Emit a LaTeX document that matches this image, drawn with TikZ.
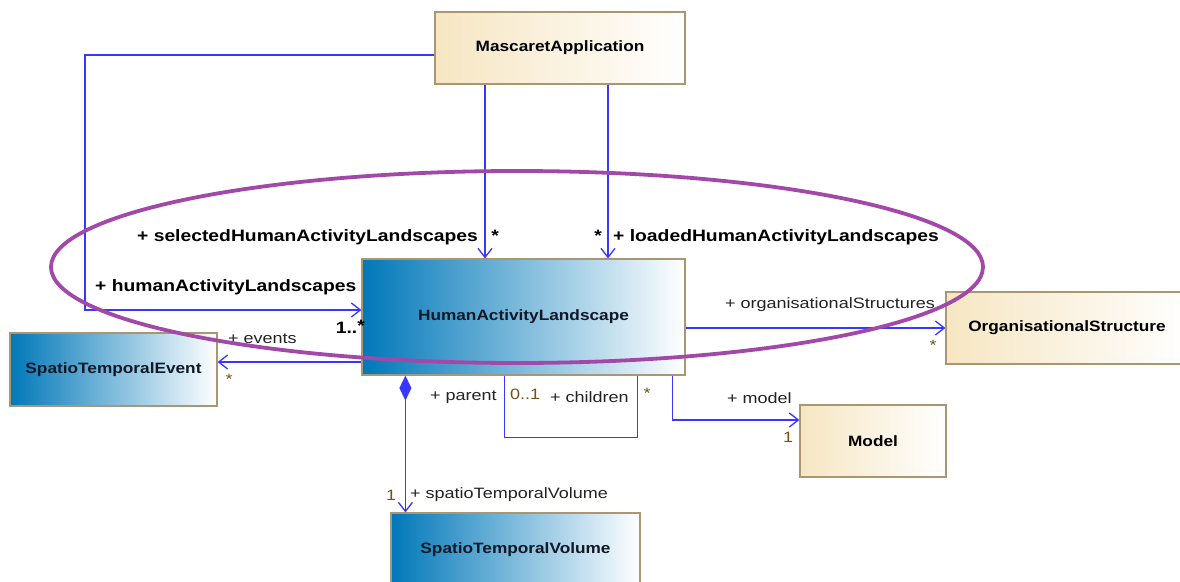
\documentclass[tikz,border=0pt]{standalone}
\usepackage{fontspec}
\setmainfont{Liberation Sans}
\newfontfamily\classfont[FakeStretch=1.15]{Liberation Sans}
\newfontfamily\rolefont[FakeStretch=1.17]{Liberation Sans}
\newfontfamily\labelfont[FakeStretch=1.2]{Liberation Sans}
\usetikzlibrary{arrows.meta}
\definecolor{lineblue}{RGB}{55,55,255}
\definecolor{boxborder}{RGB}{170,150,115}
\definecolor{tanleft}{RGB}{246,230,194}
\definecolor{blueleft}{RGB}{0,120,185}
\definecolor{textdark}{RGB}{15,25,40}
\definecolor{ellipsepurple}{RGB}{162,72,168}
\definecolor{multbrown}{RGB}{120,80,20}
\definecolor{labelgray}{RGB}{35,35,35}
\begin{document}
\begin{tikzpicture}[x=1pt,y=-1pt,
  cls/.style={draw=boxborder, line width=1.2pt, font=\classfont\fontsize{15}{17}\selectfont\bfseries, inner sep=0pt},
  tanbox/.style={cls, left color=tanleft, right color=white, text=black},
  bluebox/.style={cls, left color=blueleft, right color=white, text=textdark},
  assoc/.style={draw=lineblue, line width=1.3pt, -{Straight Barb[length=9pt,width=14pt]}},
  plainline/.style={draw=lineblue, line width=1.3pt},
  comp/.style={draw=lineblue, line width=1.3pt, {Diamond[length=25pt,width=12pt,fill=lineblue]}-{Straight Barb[length=9pt,width=14pt]}},
  rolebold/.style={font=\rolefont\fontsize{16.5}{19}\selectfont\bfseries, text=black, inner sep=0pt},
  role/.style={font=\labelfont\fontsize{15}{17}\selectfont, text=labelgray, inner sep=0pt},
  mult/.style={font=\labelfont\fontsize{15}{17}\selectfont, text=multbrown, inner sep=0pt},
  ring/.style={draw=ellipsepurple, line width=3.8pt}]
\useasboundingbox (0,0) rectangle (1180,581);
\fill[white] (0,0) rectangle (1180,581);

% classes
\node[tanbox, minimum width=250pt, minimum height=72pt] (ma) at (560,48) {MascaretApplication};
\node[bluebox, minimum width=323pt, minimum height=116pt] (hal) at (523.5,317) {HumanActivityLandscape};
\node[bluebox, minimum width=207pt, minimum height=73pt] (ste) at (113.5,369.5) {SpatioTemporalEvent};
\node[tanbox, minimum width=242pt, minimum height=72pt] (os) at (1067,328) {OrganisationalStructure};
\node[tanbox, minimum width=146pt, minimum height=72pt] (model) at (873,441) {Model};
\node[bluebox, minimum width=249pt, minimum height=74pt] (stv) at (515.5,550) {SpatioTemporalVolume};

% connectors
\coordinate (k1) at (85,310);
\draw[assoc] ([yshift=-7pt]ma.west) -| (k1) -- (hal.west |- k1);
\draw[assoc] ([xshift=-75pt]ma.south) -- ([xshift=-75pt]ma.south |- hal.north);
\draw[assoc] ([xshift=48pt]ma.south) -- ([xshift=48pt]ma.south |- hal.north);
\draw[assoc] (hal.east |- os.west) -- (os.west);
\draw[assoc] ([xshift=-13pt]hal.south east) |- ([yshift=21pt]model.west);
\draw[assoc] ([yshift=-45pt]hal.west) -- ([yshift=-45pt]hal.west -| ste.east);
\draw[comp] ([xshift=44pt]hal.south west) -- ([xshift=44pt]hal.south west |- stv.north);
\draw[plainline] ([xshift=143pt]hal.south west) -- ++(0,62) -| ([xshift=276pt]hal.south west);

% labels
\node[rolebold, anchor=west] (l1) at (95,287) {+ humanActivityLandscapes};
\node[rolebold, anchor=east] (l2) at (365,327) {1..\raisebox{2pt}{*}};
\node[rolebold, anchor=east] (l3) at (478,237) {+ selectedHumanActivityLandscapes};
\node[rolebold, anchor=center] (l4) at (495,236) {*};
\node[rolebold, anchor=center] (l5) at (598,236) {*};
\node[rolebold, anchor=west] (l6) at (613,237) {+ loadedHumanActivityLandscapes};
\node[role, anchor=west] (l7) at (725,305) {+ organisationalStructures};
\node[mult, anchor=center] (l8) at (933,345) {*};
\node[role, anchor=west] (l9) at (727,398) {+ model};
\node[mult, anchor=center] (l10) at (788,437) {1};
\node[role, anchor=west] (l11) at (228,339) {+ events};
\node[mult, anchor=center] (l12) at (229,379) {*};
\node[role, anchor=west] (l13) at (430,397) {+ parent};
\node[mult, anchor=west] (l14) at (510,394) {0..1};
\node[role, anchor=west] (l15) at (550,397) {+ children};
\node[mult, anchor=center] (l16) at (647,393) {*};
\node[mult, anchor=center] (l17) at (391,495) {1};
\node[role, anchor=west] (l18) at (410,495) {+ spatioTemporalVolume};

% highlight ellipse
\draw[ring] (517,267) ellipse [x radius=466pt, y radius=96pt];
\end{tikzpicture}
\end{document}
